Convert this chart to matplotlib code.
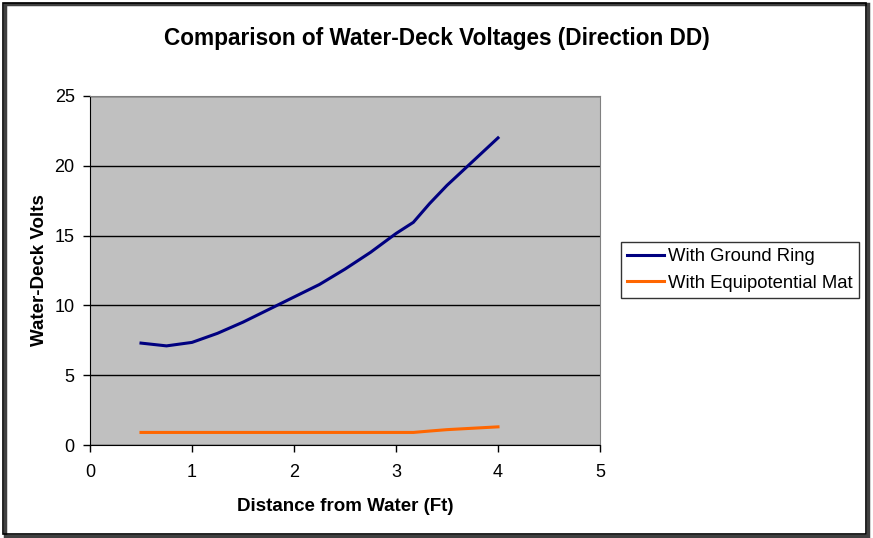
import matplotlib
matplotlib.use("Agg")
import matplotlib.pyplot as plt
from matplotlib.patches import Rectangle

plt.rcParams["font.family"] = ["Liberation Sans", "DejaVu Sans"]

# distance from water (ft)
distance = [0.5, 0.75, 1.0, 1.25, 1.5, 1.75, 2.0, 2.25, 2.5, 2.75,
            3.0, 3.17, 3.33, 3.5, 3.75, 4.0]
# water-deck voltages
ground_ring = [7.3, 7.1, 7.35, 8.0, 8.8, 9.7, 10.6, 11.5, 12.6, 13.8,
               15.15, 15.95, 17.3, 18.6, 20.3, 22.0]
equipotential_mat = [0.9, 0.9, 0.9, 0.9, 0.9, 0.9, 0.9, 0.9, 0.9, 0.9,
                     0.9, 0.9, 1.0, 1.1, 1.2, 1.3]

W, H = 873, 538
fig = plt.figure(figsize=(W / 100, H / 100), dpi=100)
ax = fig.add_axes([90 / W, 1 - 445 / H, 510 / W, 349 / H])
ax.set_facecolor("#c0c0c0")

ax.plot(distance, ground_ring, color="#000080", lw=2.2, label="With Ground Ring")
ax.plot(distance, equipotential_mat, color="#ff6600", lw=2.2,
        label="With Equipotential Mat")

ax.set_xlim(0, 5)
ax.set_ylim(0, 25)
ax.set_xticks(range(0, 6))
ax.set_yticks(range(0, 26, 5))
ax.yaxis.grid(True, color="black", lw=1)
ax.set_axisbelow(True)
ax.tick_params(direction="out", length=5, width=1, labelsize=13, pad=6)
ax.tick_params(axis="x", pad=9)
for s in ("top", "right"):
    ax.spines[s].set_color("#808080")
for s in ("left", "bottom"):
    ax.spines[s].set_color("black")

ax.set_xlabel("Distance from Water (Ft)", fontsize=13.5, fontweight="bold",
              labelpad=12)
ax.set_ylabel("Water-Deck Volts", fontsize=13.5, fontweight="bold", labelpad=5)
fig.text(437 / W, 1 - 38 / H, "Comparison of Water-Deck Voltages (Direction DD)",
         ha="center", va="center", fontsize=16.3, fontweight="bold")

leg = ax.legend(loc="center left", bbox_to_anchor=(621 / W, 1 - 270 / H),
                bbox_transform=fig.transFigure, frameon=True, fancybox=False,
                fontsize=13.3, handlelength=2.0, borderpad=0.35,
                labelspacing=0.5, handletextpad=0.2, borderaxespad=0)
leg.get_frame().set_edgecolor("black")
leg.get_frame().set_linewidth(1)

# outer chart border with shadow
fig.patches.append(Rectangle((5 / W, 2 / H), 863 / W, 532 / H,
                             transform=fig.transFigure, fill=False,
                             edgecolor="#404040", lw=2.5))
fig.patches.append(Rectangle((3 / W, 4 / H), 863 / W, 531 / H,
                             transform=fig.transFigure, fill=False,
                             edgecolor="black", lw=1.2))

fig.savefig("out.png", dpi=100)
